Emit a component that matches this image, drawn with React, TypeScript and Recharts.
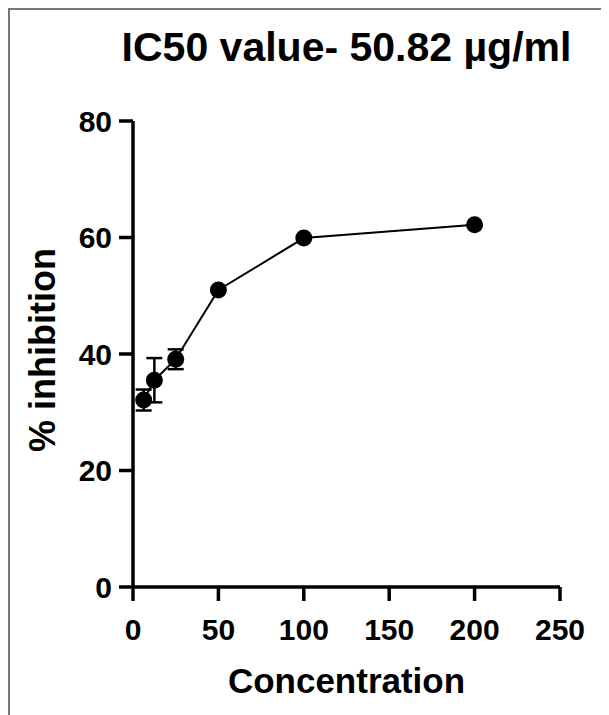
import { ComposedChart, Line, XAxis, YAxis, ErrorBar, Label } from "recharts";

// concentration (µg/ml) vs % inhibition, mean ± error
const concentration = [6.25, 12.5, 25, 50, 100, 200];
const inhibition = [32.1, 35.5, 39.1, 51.0, 59.9, 62.2];
const errors = [1.8, 3.8, 1.7, 0, 0, 0];
const xTicks = [0, 50, 100, 150, 200, 250];
const yTicks = [0, 20, 40, 60, 80];

const data = concentration.map((c, i) => ({ conc: c, inh: inhibition[i], err: errors[i] }));

const FONT = "'Liberation Sans', Arial, sans-serif";
const tickStyle = { fontSize: 30, fontWeight: 700, fill: "#000", fontFamily: FONT };

export default function App() {
  return (
    <div
      style={{
        position: "relative",
        width: 599,
        height: 705,
        borderLeft: "2px solid #777",
        borderTop: "2px solid #777",
        background: "#fff",
        fontFamily: FONT,
      }}
    >
      <div
        style={{
          position: "absolute",
          left: 103,
          width: 467,
          top: 16,
          textAlign: "center",
          fontSize: 41,
          fontWeight: 700,
          color: "#000",
          whiteSpace: "nowrap",
          lineHeight: "42px",
        }}
      >
        IC50 value- 50.82 µg/ml
      </div>
      <ComposedChart width={599} height={705} data={data} margin={{ top: 111, right: 49, bottom: 0, left: 0 }}>
        <XAxis
          dataKey="conc"
          type="number"
          domain={[0, 250]}
          ticks={xTicks}
          height={128}
          tickSize={14}
          tickMargin={18}
          tick={tickStyle}
          axisLine={{ stroke: "#000", strokeWidth: 3.5 }}
          tickLine={{ stroke: "#000", strokeWidth: 3.5 }}
        >
          <Label
            content={({ viewBox }: any) => (
              <text
                x={viewBox.x + viewBox.width / 2}
                y={viewBox.y + 106}
                textAnchor="middle"
                fontSize={35}
                fontWeight={700}
                fontFamily={FONT}
                fill="#000"
              >
                Concentration
              </text>
            )}
          />
        </XAxis>
        <YAxis
          type="number"
          domain={[0, 80]}
          ticks={yTicks}
          width={123}
          tickSize={14}
          tickMargin={7}
          tick={tickStyle}
          axisLine={{ stroke: "#000", strokeWidth: 3.5 }}
          tickLine={{ stroke: "#000", strokeWidth: 3.5 }}
        >
          <Label
            content={({ viewBox }: any) => {
              const cx = 32;
              const cy = viewBox.y + viewBox.height / 2 - 4;
              return (
                <text
                  x={cx}
                  y={cy}
                  transform={`rotate(-90, ${cx}, ${cy})`}
                  textAnchor="middle"
                  dominantBaseline="central"
                  fontSize={36}
                  fontWeight={700}
                  fontFamily={FONT}
                  fill="#000"
                >
                  % inhibition
                </text>
              );
            }}
          />
        </YAxis>
        <Line
          dataKey="inh"
          stroke="#000"
          strokeWidth={2}
          dot={{ r: 8.5, fill: "#000", stroke: "#000", strokeWidth: 0 }}
          activeDot={false}
          isAnimationActive={false}
        >
          <ErrorBar dataKey="err" direction="y" width={8} stroke="#000" strokeWidth={2.5} isAnimationActive={false} />
        </Line>
      </ComposedChart>
    </div>
  );
}
